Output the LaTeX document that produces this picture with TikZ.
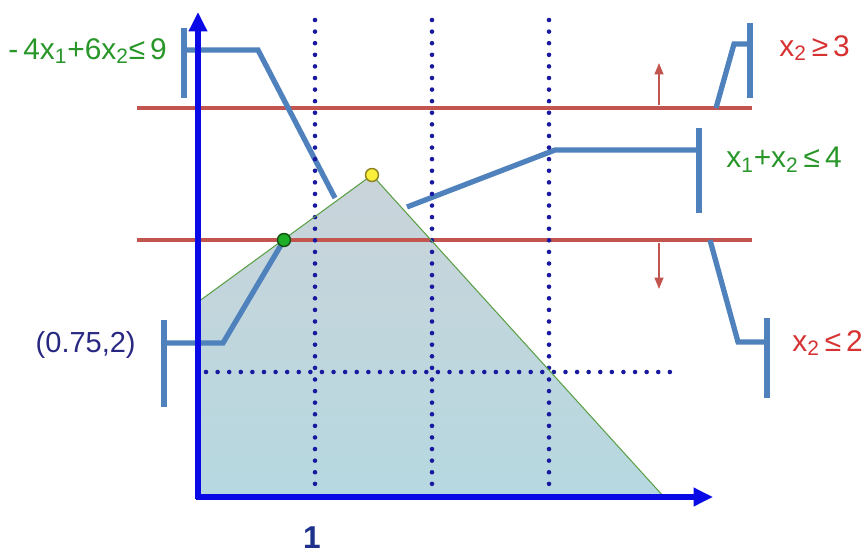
\documentclass[tikz,border=0pt]{standalone}
\usepackage{fontspec}
\setmainfont{Liberation Sans}
\usetikzlibrary{arrows.meta}
\definecolor{axisblue}{RGB}{10,10,230}
\definecolor{dotblue}{RGB}{25,25,160}
\definecolor{redline}{RGB}{195,85,80}
\definecolor{callout}{RGB}{79,129,189}
\definecolor{greentext}{RGB}{40,150,40}
\definecolor{redtext}{RGB}{215,50,50}
\definecolor{navytext}{RGB}{40,40,130}
\definecolor{onetext}{RGB}{30,50,140}
\definecolor{edgegreen}{RGB}{90,160,70}
\definecolor{filltop}{RGB}{202,212,218}
\definecolor{fillbot}{RGB}{182,216,224}
\begin{document}
\begin{tikzpicture}[x=0.02cm,y=-0.02cm,
  axisline/.style={line width=3.4pt, axisblue, -{Triangle[length=11pt,width=10pt]}},
  redconstr/.style={line width=2.8pt, redline},
  redarrow/.style={line width=1.1pt, redline, -{Triangle[length=6.5pt,width=5pt]}},
  dotline/.style={line width=2.6pt, dotblue, line cap=round, dash pattern=on 0pt off 6.6pt},
  calloutline/.style={line width=3pt, callout},
  edge/.style={line width=0.6pt, edgegreen},
  lbl/.style={font=\fontsize{17}{20}\selectfont, inner sep=0pt},
  ptmark/.style={circle, inner sep=0pt, minimum size=0.26cm, line width=0.8pt}
]
\useasboundingbox (0,0) rectangle (862,554);
% key points
\coordinate (O) at (198,497);
\coordinate (Ytop) at (198,12);
\coordinate (Xend) at (713,497);
\coordinate (A) at (198,302);
\coordinate (Yc) at (372,175);
\coordinate (Gc) at (284,240);
\coordinate (B) at (664,497);
% feasible region
\shade[top color=filltop, bottom color=fillbot] (O) -- (A) -- (Yc) -- (B) -- cycle;
% red constraint lines
\coordinate (r3a) at (137,108); \coordinate (r3b) at (752,108);
\coordinate (r2a) at (137,240); \coordinate (r2b) at (752,240);
\draw[redconstr] (r3a) -- (r3b);
\draw[redconstr] (r2a) -- (r2b);
\coordinate (u0) at (659,105); \coordinate (u1) at (659,63);
\coordinate (d0) at (659,243); \coordinate (d1) at (659,289);
\draw[redarrow] (u0) -- (u1);
\draw[redarrow] (d0) -- (d1);
% callouts
\node[lbl, text=greentext, anchor=west] (L1) at (8,51) {-\,4x\textsubscript{1}+6x\textsubscript{2}≤\,9};
\coordinate (b1t) at (184,28); \coordinate (b1b) at (184,98);
\coordinate (b1m) at (184,50); \coordinate (b1k) at (258,50); \coordinate (b1e) at (335,198);
\draw[calloutline] (b1t) -- (b1b);
\draw[calloutline] (b1m) -- (b1k) -- (b1e);

\node[lbl, text=redtext, anchor=west] (L2) at (779,48) {x\textsubscript{2}\,≥\,3};
\coordinate (b2t) at (750,23); \coordinate (b2b) at (750,98);
\coordinate (b2m) at (750,44); \coordinate (b2k) at (734,44); \coordinate (b2e) at (716,108);
\draw[calloutline] (b2t) -- (b2b);
\draw[calloutline] (b2m) -- (b2k) -- (b2e);

\node[lbl, text=greentext, anchor=west] (L3) at (726,160) {x\textsubscript{1}+x\textsubscript{2}\,≤\,4};
\coordinate (b3t) at (699,128); \coordinate (b3b) at (699,213);
\coordinate (b3m) at (699,150); \coordinate (b3k) at (555,150); \coordinate (b3e) at (407,207);
\draw[calloutline] (b3t) -- (b3b);
\draw[calloutline] (b3m) -- (b3k) -- (b3e);

\node[lbl, text=redtext, anchor=west] (L4) at (792,343) {x\textsubscript{2}\,≤\,2};
\coordinate (b4t) at (767,318); \coordinate (b4b) at (767,398);
\coordinate (b4m) at (767,342); \coordinate (b4k) at (738,342); \coordinate (b4e) at (710,240);
\draw[calloutline] (b4t) -- (b4b);
\draw[calloutline] (b4m) -- (b4k) -- (b4e);

\node[lbl, text=navytext, anchor=east, font=\fontsize{16.5}{20}\selectfont] (L5) at (136,345) {(0.75,2)};
\coordinate (b5t) at (164,320); \coordinate (b5b) at (164,407);
\coordinate (b5m) at (164,343); \coordinate (b5k) at (223,343);
\draw[calloutline] (b5t) -- (b5b);
\draw[calloutline] (b5m) -- (b5k) -- (Gc);
% dotted grid
\foreach \xx/\nm in {315/a,432/b,549/c}{
  \coordinate (v\nm t) at (\xx,20); \coordinate (v\nm b) at (\xx,492);
  \draw[dotline] (v\nm t) -- (v\nm b);
}
\coordinate (hl) at (206,372); \coordinate (hr) at (678,372);
\draw[dotline] (hl) -- (hr);
% boundary
\draw[edge] (A) -- (Yc) -- (B);
% axes
\draw[axisline] ([xshift=-1.2pt]O) -- (Xend);
\draw[axisline] ([yshift=-1.2pt]O) -- (Ytop);
% points
\node[ptmark, fill={rgb,255:red,30;green,175;blue,40}, draw={rgb,255:red,20;green,80;blue,20}] (G) at (Gc) {};
\node[ptmark, fill={rgb,255:red,250;green,240;blue,60}, draw={rgb,255:red,140;green,130;blue,30}] (Y) at (Yc) {};
% tick label
\node[lbl, text=onetext, font=\fontsize{18}{20}\selectfont\bfseries] (one) at (312,538) {1};
\end{tikzpicture}
\end{document}
